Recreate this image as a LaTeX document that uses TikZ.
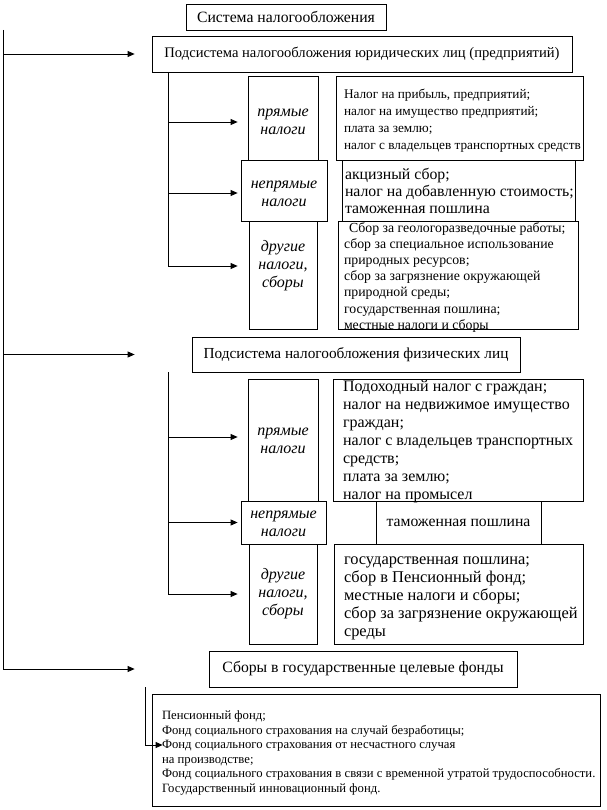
\documentclass[tikz,border=0pt]{standalone}
\usepackage{fontspec}
\setmainfont{Liberation Serif}
\usetikzlibrary{arrows.meta}
\newcommand\fs[2]{\fontsize{#1pt}{#2pt}\selectfont}
\newcommand\tb[3][0]{\smash{\raisebox{#1pt}{\makebox[#2pt][l]{\begin{tabular}[c]{@{}l@{}}#3\end{tabular}}}}}
\newcommand\lb[2][0]{\smash{\raisebox{#1pt}{\begin{tabular}[c]{@{}c@{}}#2\end{tabular}}}}
\begin{document}
\begin{tikzpicture}[x=1pt,y=-1pt,line width=0.8pt,
  box/.style={draw,inner sep=0pt,line width=0.8pt},
  lbl/.style={box,font=\fs{16}{18}\itshape},
  arr/.style={-{Triangle[length=7pt,width=6pt]}}]
\useasboundingbox (0,0) rectangle (606,810);
% main boxes
\node[box,minimum width=200pt,minimum height=26pt,font=\fs{15.7}{18}] (title) at (286,17) {Система налогообложения};
\node[box,minimum width=420pt,minimum height=36pt,font=\fs{14.6}{18}] (sub1) at (362,54) {Подсистема налогообложения юридических лиц (предприятий)};
% subsystem 1
\node[lbl,minimum width=70pt,minimum height=84pt] (pr1) at (283,118) {\lb[-8]{прямые\\налоги}};
\node[box,minimum width=247pt,minimum height=84pt,font=\fs{13.25}{17}] (t1) at (459.5,118) {\tb[-6]{231}{Налог на прибыль, предприятий;\\налог на имущество предприятий;\\плата за землю;\\налог с владельцев транспортных средств}};
\node[lbl,minimum width=86pt,minimum height=61pt] (np1) at (284,190.5) {\lb[-8]{непрямые\\налоги}};
\node[box,minimum width=233pt,minimum height=61pt,font=\fs{15.8}{17}] (t2) at (458.5,190.5) {\tb[-6]{227}{акцизный сбор;\\налог на добавленную стоимость;\\таможенная пошлина}};
\node[lbl,minimum width=68pt,minimum height=108pt] (dr1) at (283,275) {\lb[5]{другие\\налоги,\\сборы}};
\node[box,minimum width=240pt,minimum height=108pt,font=\fs{13.8}{16.2}] (t3) at (458,275) {\tb[-6]{228}{\hspace*{5pt}Сбор за геологоразведочные работы;\\сбор за специальное использование\\природных ресурсов;\\сбор за загрязнение окружающей\\природной среды;\\государственная пошлина;\\местные налоги и сборы}};
% subsystem 2
\node[box,minimum width=328pt,minimum height=35pt,font=\fs{15.3}{18}] (sub2) at (356,354.5) {Подсистема налогообложения физических лиц};
\node[lbl,minimum width=70pt,minimum height=122pt] (pr2) at (283,440) {\lb[-5]{прямые\\налоги}};
\node[box,minimum width=250pt,minimum height=122pt,font=\fs{16}{18}] (t4) at (458,440) {\tb[-6]{230}{Подоходный налог с граждан;\\налог на недвижимое имущество\\граждан;\\налог с владельцев транспортных\\средств;\\плата за землю;\\налог на промысел}};
\node[lbl,minimum width=85pt,minimum height=43pt] (np2) at (283.5,522.5) {\lb[-6]{непрямые\\налоги}};
\node[box,minimum width=165pt,minimum height=43pt,font=\fs{15.7}{18}] (t5) at (458.5,522.5) {таможенная пошлина};
\node[lbl,minimum width=68pt,minimum height=100pt] (dr2) at (283,594) {\lb[-4]{другие\\налоги,\\сборы}};
\node[box,minimum width=249pt,minimum height=100pt,font=\fs{16.4}{18}] (t6) at (458.5,594) {\tb[-7]{229}{государственная пошлина;\\сбор в Пенсионный фонд;\\местные налоги и сборы;\\сбор за загрязнение окружающей\\среды}};
% funds
\node[box,minimum width=308pt,minimum height=36pt,font=\fs{15.7}{18}] (sb) at (363,669) {Сборы в государственные целевые фонды};
\node[box,minimum width=448pt,minimum height=112pt,font=\fs{12.7}{14.5}] (t7) at (376,750) {\tb[-6]{428}{Пенсионный фонд;\\Фонд социального страхования на случай безработицы;\\Фонд социального страхования от несчастного случая\\на производстве;\\Фонд социального страхования в связи с временной утратой трудоспособности.\\Государственный инновационный фонд.}};
% trunk coordinates
\coordinate (a0) at (3,30);
\coordinate (b0) at (168,72);
\coordinate (b1) at (168,372);
\coordinate (c0) at (145,687);
% main trunk
\draw[arr] (a0) |- ([xshift=-74pt]sb.west);
\draw[arr] (a0 |- sub1.west) -- ([xshift=-17pt]sub1.west);
\draw[arr] (a0 |- sub2.west) -- ([xshift=-57pt]sub2.west);
% trunk 1
\draw[arr] (b0) |- ([xshift=-11pt,yshift=9pt]dr1.west);
\draw[arr] (b0 |- pr1.west) ++(0,4) -- ([xshift=-10pt,yshift=-4pt]pr1.west);
\draw[arr] (b0 |- np1.west) ++(0,2.5) -- ([xshift=-3pt,yshift=-2.5pt]np1.west);
% trunk 2
\draw[arr] (b1) |- ([xshift=-11pt]dr2.west);
\draw[arr] (b1 |- pr2.west) ++(0,-3) -- ([xshift=-10pt,yshift=3pt]pr2.west);
\draw[arr] (b1 |- np2.west) -- ([xshift=-3pt]np2.west);
% trunk 3
\draw[arr] (c0) |- ([xshift=11pt,yshift=5pt]t7.west);
\end{tikzpicture}
\end{document}
